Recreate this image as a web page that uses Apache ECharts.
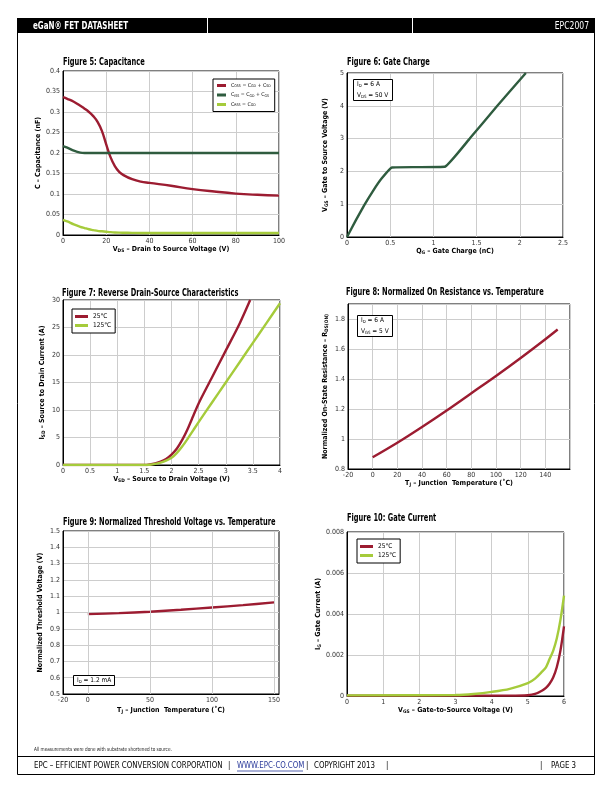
<!DOCTYPE html>
<html><head><meta charset="utf-8">
<script src="https://cdn.jsdelivr.net/npm/echarts@6/dist/echarts.min.js"></script>
<style>html,body{margin:0;padding:0;background:#fff}#c{width:612px;height:792px}</style>
</head><body><div id="c"></div>
<script>
// ---------- DATA ----------
// Figure 5: Capacitance
const fig5Vds  = [0, 2, 5, 8, 10, 12, 14, 16, 18, 20, 22, 24, 26, 28, 32, 36, 40, 50, 60, 70, 80, 90, 100];
const fig5Coss = [0.336, 0.332, 0.325, 0.315, 0.308, 0.300, 0.290, 0.276, 0.254, 0.221, 0.190, 0.168, 0.154, 0.146, 0.136, 0.130, 0.127, 0.120, 0.112, 0.106, 0.101, 0.098, 0.096];
const fig5Ciss = [0.217, 0.213, 0.206, 0.201, 0.200, 0.200, 0.200, 0.200, 0.200, 0.200, 0.200, 0.200, 0.200, 0.200, 0.200, 0.200, 0.200, 0.200, 0.200, 0.200, 0.200, 0.200, 0.200];
const fig5Crss = [0.037, 0.033, 0.026, 0.020, 0.017, 0.014, 0.012, 0.010, 0.009, 0.008, 0.007, 0.0062, 0.0057, 0.0055, 0.0052, 0.005, 0.005, 0.005, 0.005, 0.005, 0.005, 0.005, 0.005];
// Figure 6: Gate Charge
const fig6Qg  = [0, 0.1, 0.2, 0.3, 0.4, 0.52, 0.8, 1.13, 1.42, 1.74, 2.07];
const fig6Vgs = [0, 0.5, 0.97, 1.4, 1.78, 2.12, 2.13, 2.14, 3.0, 4.0, 5.0];
// Figure 7: Reverse Drain-Source Characteristics
const fig7Vsd25  = [0, 1.5, 1.6, 1.7, 1.8, 1.9, 2.0, 2.1, 2.2, 2.3, 2.4, 2.5, 2.75, 3.0, 3.25, 3.45];
const fig7Isd25  = [0, 0, 0.1, 0.3, 0.6, 1.1, 1.9, 3.0, 4.6, 6.6, 8.9, 11.2, 16.0, 20.8, 25.6, 30];
const fig7Vsd125 = [0, 1.5, 1.6, 1.7, 1.8, 1.9, 2.0, 2.1, 2.2, 2.3, 2.4, 2.5, 2.75, 3.0, 3.25, 3.5, 3.75, 4.0];
const fig7Isd125 = [0, 0, 0.05, 0.2, 0.45, 0.8, 1.3, 2.2, 3.4, 4.8, 6.3, 7.8, 11.4, 15.0, 18.6, 22.2, 25.8, 29.4];
// Figure 8: Normalized On Resistance vs. Temperature
const fig8Tj   = [0, 20, 40, 60, 80, 100, 120, 140, 150];
const fig8Rdson = [0.878, 0.975, 1.08, 1.19, 1.305, 1.42, 1.54, 1.665, 1.73];
// Figure 9: Normalized Threshold Voltage vs. Temperature
const fig9Tj  = [0, 25, 50, 75, 100, 125, 150];
const fig9Vth = [0.99, 0.996, 1.005, 1.017, 1.031, 1.045, 1.062];
const fig9XTicks = [-20, 0, 50, 100, 150];
// Figure 10: Gate Current
const fig10Vgs25  = [0, 4.5, 5.0, 5.2, 5.4, 5.5, 5.6, 5.7, 5.8, 5.9, 6.0];
const fig10Ig25   = [0.00002, 0.00002, 0.00004, 0.0001, 0.00027, 0.0004, 0.0006, 0.0009, 0.0014, 0.0022, 0.0034];
const fig10Vgs125 = [0, 3.0, 3.5, 4.0, 4.5, 5.0, 5.2, 5.4, 5.5, 5.6, 5.7, 5.8, 5.9, 6.0];
const fig10Ig125  = [0.00003, 0.00005, 0.0001, 0.0002, 0.00035, 0.00063, 0.00085, 0.0012, 0.0014, 0.0018, 0.0022, 0.0028, 0.0037, 0.0049];

// ---------- TEXT ----------
const figTitles = [
  'Figure 5: Capacitance',
  'Figure 6: Gate Charge',
  'Figure 7: Reverse Drain-Source Characteristics',
  'Figure 8: Normalized On Resistance vs. Temperature',
  'Figure 9: Normalized Threshold Voltage vs. Temperature',
  'Figure 10: Gate Current'
];
const xNames = [
  '{b|V}{s|DS}{b| – Drain to Source Voltage (V)}',
  '{b|Q}{s|G}{b| – Gate Charge (nC)}',
  '{b|V}{s|SD}{b| – Source to Drain Voltage (V)}',
  '{b|T}{s|J}{b| – Junction  Temperature (˚C)}',
  '{b|T}{s|J}{b| – Junction  Temperature (˚C)}',
  '{b|V}{s|GS}{b| – Gate-to-Source Voltage (V)}'
];
const yNames = [
  '{b|C – Capacitance (nF)}',
  '{b|V}{s|GS}{b| – Gate to Source Voltage (V)}',
  '{b|I}{s|SD}{b| – Source to Drain Current (A)}',
  '{b|Normalized On-State Resistance – R}{s|DS(ON)}',
  '{b|Normalized Threshold Voltage (V)}',
  '{b|I}{s|G}{b| – Gate Current (A)}'
];
const legendText = {
  'Coss': '{t|C}{s|OSS}{t| = C}{s|GD}{t| + C}{s|SD}',
  'Ciss': '{t|C}{s|ISS}{t| = C}{s|GD}{t| + C}{s|GS}',
  'Crss': '{t|C}{s|RSS}{t| = C}{s|GD}',
  'f7a': '{u|25°C}', 'f7b': '{u|125°C}',
  'f10a': '{u|25°C}', 'f10b': '{u|125°C}'
};
const noteTexts = [
  '{t|I}{s|D}{t| = 6 A}\n{t|V}{s|DS}{t| = 50 V}',
  '{t|I}{s|D}{t| = 6 A}\n{t|V}{s|GS}{t| = 5 V}',
  '{t|I}{s|D}{t| = 1.2 mA}'
];

// ---------- STYLE ----------
const FONT = '"Liberation Sans Narrow","DejaVu Sans Condensed","Liberation Sans",sans-serif';
const RED = '#9c1c31', DKG = '#2f5c3f', LTG = '#a5cb3b';
const zip = (a, b) => a.map((v, i) => [v, b[i]]);

const grids = [
  {left: 63,  top: 71,  width: 216, height: 164},
  {left: 347, top: 73,  width: 216, height: 164},
  {left: 63,  top: 300, width: 217, height: 165},
  {left: 348, top: 304, width: 222, height: 165},
  {left: 63,  top: 531, width: 216, height: 163},
  {left: 347, top: 532, width: 217, height: 164}
].map(g => Object.assign(g, {show: true, borderColor: '#000', borderWidth: 1, containLabel: false}));

const nameRich = {
  b: {fontFamily: FONT, fontSize: 7, fontWeight: 'bold', color: '#000'},
  s: {fontFamily: FONT, fontSize: 4.8, fontWeight: 'bold', color: '#000', verticalAlign: 'bottom', padding: [3, 0, 0, 0]}
};
function axisBase(i, name, gap, rot) {
  return {
    gridIndex: i, type: 'value', name: name, nameLocation: 'middle', nameGap: gap,
    nameRotate: rot,
    nameTextStyle: {rich: nameRich, fontFamily: FONT},
    axisLine: {show: true, onZero: false, lineStyle: {color: '#000', width: 1}},
    axisTick: {show: false},
    axisLabel: {fontFamily: FONT, fontSize: 7, color: '#333', margin: 3},
    splitLine: {show: true, lineStyle: {color: '#cdcdcd', width: 1}}
  };
}
const xAxes = [
  Object.assign(axisBase(0, xNames[0], 9), {min: 0, max: 100, interval: 20}),
  Object.assign(axisBase(1, xNames[1], 9), {min: 0, max: 2.5, interval: 0.5}),
  Object.assign(axisBase(2, xNames[2], 10), {min: 0, max: 4, interval: 0.5}),
  Object.assign(axisBase(3, xNames[3], 10), {min: -20, max: 160, interval: 20, axisLabel: {fontFamily: FONT, fontSize: 7, color: '#333', margin: 3, showMaxLabel: false}}),
  Object.assign(axisBase(4, xNames[4], 12), {min: -20, max: 154, interval: 10, splitLine: {show: false},
    axisLabel: {fontFamily: FONT, fontSize: 7, color: '#333', margin: 3,
      formatter: v => fig9XTicks.some(t => Math.abs(t - v) < 1e-6) ? String(Math.round(v)) : ''}}),
  Object.assign(axisBase(5, xNames[5], 10), {min: 0, max: 6, interval: 1})
];
const yAxes = [
  Object.assign(axisBase(0, yNames[0], 19, 90), {min: 0, max: 0.4, interval: 0.05}),
  Object.assign(axisBase(1, yNames[1], 18, 90), {min: 0, max: 5, interval: 1}),
  Object.assign(axisBase(2, yNames[2], 17, 90), {min: 0, max: 30, interval: 5}),
  Object.assign(axisBase(3, yNames[3], 19, 90), {min: 0.8, max: 1.9, interval: 0.2, axisLabel: {fontFamily: FONT, fontSize: 7, color: '#333', margin: 3, showMaxLabel: false}}),
  Object.assign(axisBase(4, yNames[4], 19, 90), {min: 0.5, max: 1.5, interval: 0.1}),
  Object.assign(axisBase(5, yNames[5], 20, 90), {min: 0, max: 0.008, interval: 0.002})
];

function line(name, i, data, color, smooth) {
  return {name: name, type: 'line', xAxisIndex: i, yAxisIndex: i, data: data, symbol: 'none', showSymbol: false,
    smooth: smooth, lineStyle: {color: color, width: 2.4}, itemStyle: {color: color}, z: 3, silent: true};
}
const series = [
  line('Coss', 0, zip(fig5Vds, fig5Coss), RED, 0.45),
  line('Ciss', 0, zip(fig5Vds, fig5Ciss), DKG, 0.2),
  line('Crss', 0, zip(fig5Vds, fig5Crss), LTG, 0.35),
  line('f6', 1, zip(fig6Qg, fig6Vgs), DKG, 0.1),
  line('f7a', 2, zip(fig7Vsd25, fig7Isd25), RED, 0.3),
  line('f7b', 2, zip(fig7Vsd125, fig7Isd125), LTG, 0.3),
  line('f8', 3, zip(fig8Tj, fig8Rdson), RED, 0.3),
  Object.assign(line('f9', 4, zip(fig9Tj, fig9Vth), RED, 0.3), {
    markLine: {silent: true, symbol: 'none', label: {show: false}, animation: false,
      lineStyle: {color: '#cdcdcd', width: 1, type: 'solid'},
      data: fig9XTicks.filter(t => t > -20).map(t => ({xAxis: t}))}, z: 3}),
  line('f10a', 5, zip(fig10Vgs25, fig10Ig25), RED, 0.3),
  line('f10b', 5, zip(fig10Vgs125, fig10Ig125), LTG, 0.3)
];

const legRich = {
  t: {fontFamily: FONT, fontSize: 5.2, color: '#000'},
  s: {fontFamily: FONT, fontSize: 3.6, color: '#000', verticalAlign: 'bottom', padding: [2, 0, 0, 0]},
  u: {fontFamily: FONT, fontSize: 6.5, color: '#000'}
};
function legend(names, left, top, pad, gap, iw) {
  return {data: names, left: left, top: top, orient: 'vertical', selectedMode: false,
    icon: 'rect', itemWidth: iw, itemHeight: 3, itemGap: gap, padding: pad,
    borderColor: '#000', borderWidth: 1, backgroundColor: '#fff',
    formatter: n => legendText[n], textStyle: {fontFamily: FONT, fontSize: 6, rich: legRich}};
}
const legends = [
  legend(['Coss', 'Ciss', 'Crss'], 213, 79, [4, 4, 4, 4], 4, 9),
  legend(['f7a', 'f7b'], 72, 309, [4, 4, 4, 3], 2, 13),
  legend(['f10a', 'f10b'], 357, 539, [4, 4, 4, 3], 2, 13)
];

const noteRich = {
  t: {fontFamily: FONT, fontSize: 6.5, color: '#000', lineHeight: 11},
  s: {fontFamily: FONT, fontSize: 4.3, color: '#000', verticalAlign: 'middle', padding: [3, 0, 0, 0]}
};
function note(txt, left, top) {
  return {text: txt, left: left, top: top, padding: [2, 4, 2, 4], borderColor: '#000', borderWidth: 1,
    backgroundColor: '#fff', textStyle: {fontFamily: FONT, fontSize: 6.5, fontWeight: 'normal', rich: noteRich}};
}
const titles = [
  note(noteTexts[0], 353, 77),
  note(noteTexts[1], 357, 313),
  note(noteTexts[2], 73, 673)
];

// figure titles and page frame as graphics
const titlePos = [[63, 62.5], [347, 62.5], [62, 293.5], [346, 292], [63, 522.5], [347, 518.5]];
const graphics = [];
titlePos.forEach((p, i) => graphics.push({type: 'text', x: p[0], y: p[1], scaleX: 0.74, silent: true,
  style: {text: figTitles[i], font: 'bold 10px ' + FONT, fill: '#000', verticalAlign: 'middle'}}));
// header
graphics.push({type: 'rect', shape: {x: 17, y: 18, width: 578, height: 15}, style: {fill: '#000'}, silent: true});
graphics.push({type: 'line', shape: {x1: 207.5, y1: 18, x2: 207.5, y2: 33}, style: {stroke: '#fff', lineWidth: 1}, silent: true});
graphics.push({type: 'line', shape: {x1: 412.5, y1: 18, x2: 412.5, y2: 33}, style: {stroke: '#fff', lineWidth: 1}, silent: true});
graphics.push({type: 'text', x: 33, y: 26, scaleX: 0.76, silent: true,
  style: {text: 'eGaN® FET DATASHEET', font: 'bold 10.5px ' + FONT, fill: '#fff', verticalAlign: 'middle'}});
graphics.push({type: 'text', x: 589, y: 26, scaleX: 0.85, silent: true,
  style: {text: 'EPC2007', font: '10px ' + FONT, fill: '#fff', verticalAlign: 'middle', align: 'right'}});
// frame
graphics.push({type: 'polyline', shape: {points: [[17.5, 33], [17.5, 774.5], [594.5, 774.5], [594.5, 33]]}, style: {stroke: '#000', lineWidth: 1, fill: null}, silent: true});
graphics.push({type: 'line', shape: {x1: 17, y1: 756.5, x2: 595, y2: 756.5}, style: {stroke: '#000', lineWidth: 1}, silent: true});
// footer
graphics.push({type: 'text', x: 34, y: 749.5, scaleX: 0.85, silent: true,
  style: {text: 'All measurements were done with substrate shortened to source.', font: '5.5px ' + FONT, fill: '#222', verticalAlign: 'middle'}});
const footerParts = [
  ['EPC – EFFICIENT POWER CONVERSION CORPORATION', 34, '#000'],
  ['|', 228, '#000'],
  ['WWW.EPC-CO.COM', 237, '#2a3a9a'],
  ['|', 306, '#000'],
  ['COPYRIGHT 2013', 314, '#000'],
  ['|', 386, '#000'],
  ['|', 540, '#000'],
  ['PAGE 3', 551, '#000']
];
footerParts.forEach(f => graphics.push({type: 'text', x: f[1], y: 766, scaleX: 0.87, silent: true,
  style: {text: f[0], font: '9px ' + FONT, fill: f[2], verticalAlign: 'middle'}}));
graphics.push({type: 'line', shape: {x1: 237, y1: 771, x2: 303, y2: 771}, style: {stroke: '#2a3a9a', lineWidth: 0.8}, silent: true});

const chart = echarts.init(document.getElementById('c'), null, {renderer: 'canvas'});
chart.setOption({
  animation: false,
  backgroundColor: '#fff',
  textStyle: {fontFamily: FONT},
  grid: grids,
  xAxis: xAxes,
  yAxis: yAxes,
  series: series,
  legend: legends,
  title: titles,
  graphic: graphics
});
</script>
</body></html>
